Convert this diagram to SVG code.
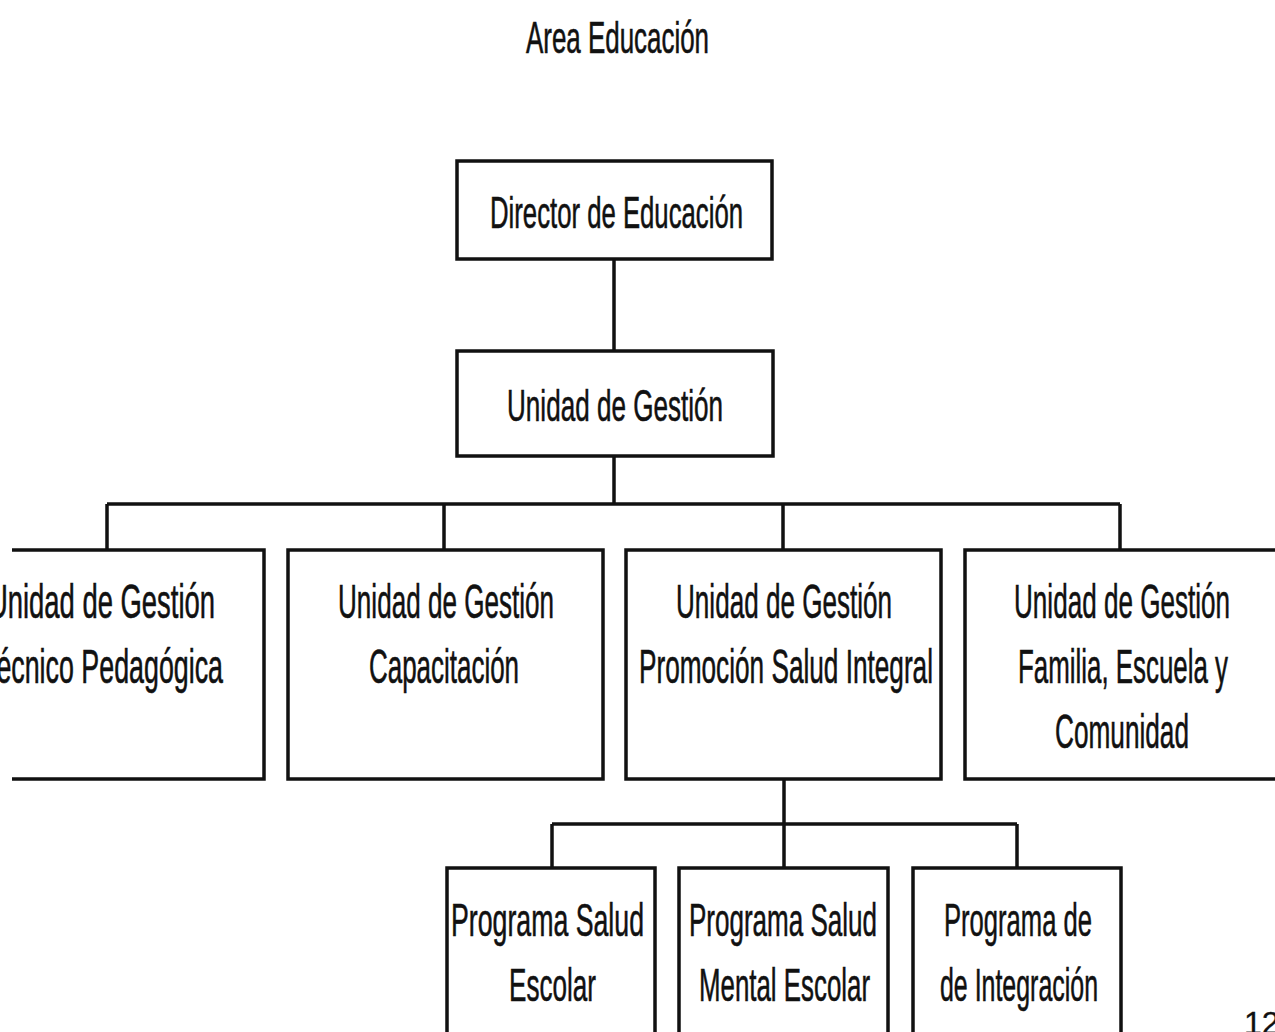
<svg xmlns="http://www.w3.org/2000/svg" width="1275" height="1032" viewBox="0 0 1275 1032">
<style>
.box{fill:#fff;stroke:#111;stroke-width:3.5}
.ln{fill:none;stroke:#111;stroke-width:3.5}
text{font-family:"Liberation Sans",Arial,sans-serif;fill:#111;stroke:#111;stroke-width:0.6;font-size:48px}
.t46{font-size:45px}
.t47{font-size:47px}
</style>
<rect width="1275" height="1032" fill="#fff"/>
<text id="title" class="t46" x="526" y="53" textLength="183" lengthAdjust="spacingAndGlyphs">Area Educación</text>
<g id="connectors">
<path class="ln" d="M614,259 V351"/>
<path class="ln" d="M614,456 V504"/>
<path class="ln" d="M107,504 H1120"/>
<path class="ln" d="M107,504 V550 M444,504 V550 M783,504 V550 M1120,504 V550"/>
<path class="ln" d="M784,779 V824"/>
<path class="ln" d="M552,824 H1017"/>
<path class="ln" d="M552,824 V868 M784,824 V868 M1017,824 V868"/>
</g>
<g id="director">
<rect class="box" x="457" y="161" width="315" height="98"/>
<text class="t46" x="490" y="228" textLength="253" lengthAdjust="spacingAndGlyphs">Director de Educación</text>
</g>
<g id="unidad-gestion">
<rect class="box" x="457" y="351" width="316" height="105"/>
<text class="t46" x="507" y="421" textLength="216" lengthAdjust="spacingAndGlyphs">Unidad de Gestión</text>
</g>
<g id="ug-tecnico">
<path class="ln" d="M12,550 H264 V779 H12"/>
<text x="-12" y="618" textLength="227" lengthAdjust="spacingAndGlyphs">Unidad de Gestión</text>
<text x="-20" y="683" textLength="243" lengthAdjust="spacingAndGlyphs">Técnico Pedagógica</text>
</g>
<g id="ug-capacitacion">
<rect class="box" x="288" y="550" width="315" height="229"/>
<text x="338" y="618" textLength="216" lengthAdjust="spacingAndGlyphs">Unidad de Gestión</text>
<text x="369" y="683" textLength="150" lengthAdjust="spacingAndGlyphs">Capacitación</text>
</g>
<g id="ug-promocion">
<rect class="box" x="626" y="550" width="315" height="229"/>
<text x="676" y="618" textLength="216" lengthAdjust="spacingAndGlyphs">Unidad de Gestión</text>
<text x="639" y="683" textLength="294" lengthAdjust="spacingAndGlyphs">Promoción Salud Integral</text>
</g>
<g id="ug-familia">
<rect class="box" x="965" y="550" width="330" height="229"/>
<text x="1014" y="618" textLength="216" lengthAdjust="spacingAndGlyphs">Unidad de Gestión</text>
<text x="1018" y="683" textLength="210" lengthAdjust="spacingAndGlyphs">Familia, Escuela y</text>
<text x="1055" y="748" textLength="134" lengthAdjust="spacingAndGlyphs">Comunidad</text>
</g>
<g id="prog-salud-escolar">
<rect class="box" x="447" y="868" width="208" height="200"/>
<text class="t47" x="451" y="936" textLength="193" lengthAdjust="spacingAndGlyphs">Programa Salud</text>
<text class="t47" x="509" y="1001" textLength="87" lengthAdjust="spacingAndGlyphs">Escolar</text>
</g>
<g id="prog-salud-mental">
<rect class="box" x="679" y="868" width="209" height="200"/>
<text class="t47" x="689" y="936" textLength="188" lengthAdjust="spacingAndGlyphs">Programa Salud</text>
<text class="t47" x="699" y="1001" textLength="171" lengthAdjust="spacingAndGlyphs">Mental Escolar</text>
</g>
<g id="prog-integracion">
<rect class="box" x="913" y="868" width="208" height="200"/>
<text class="t47" x="944" y="936" textLength="148" lengthAdjust="spacingAndGlyphs">Programa de</text>
<text class="t47" x="940" y="1001" textLength="158" lengthAdjust="spacingAndGlyphs">de Integración</text>
</g>
<text id="page-number" x="1244" y="1034" style="font-size:32px;stroke-width:0.3">12</text>
</svg>
